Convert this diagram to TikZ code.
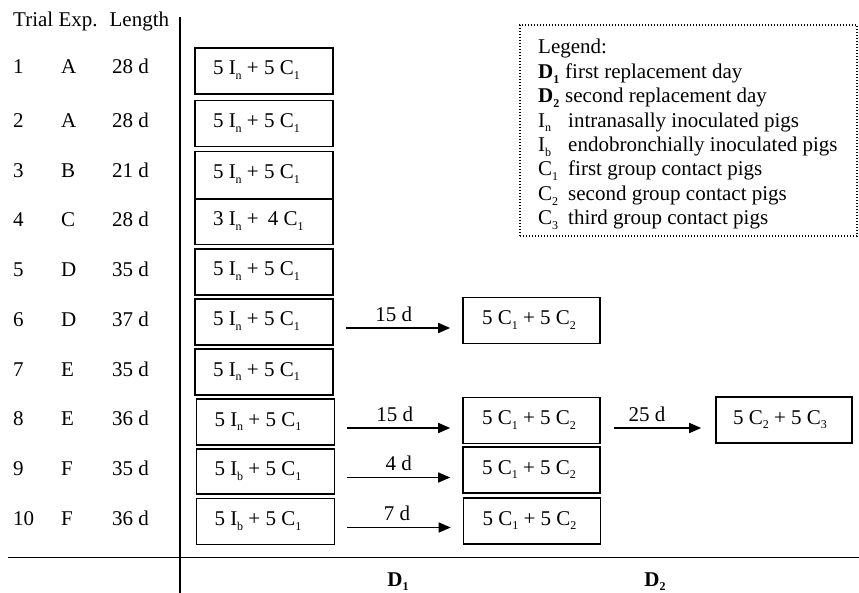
\documentclass[tikz,border=0pt]{standalone}
\usepackage{fontspec}
\setmainfont{Liberation Serif}
\usetikzlibrary{arrows.meta}
\newcommand{\sbs}[1]{\raisebox{-0.22em}{\fontsize{12pt}{12pt}\selectfont #1}}
\begin{document}
\begin{tikzpicture}[x=1pt,y=-1pt,
  every node/.style={font=\fontsize{21pt}{24pt}\selectfont, inner sep=0pt},
  box/.style={draw, line width=1.6pt, minimum height=46pt, minimum width=138pt, inner xsep=18pt, inner ysep=0pt, text height=14pt, text depth=6pt},
  box2/.style={box, minimum width=137pt, inner xsep=19pt},
  arr/.style={line width=1.6pt, -{Triangle[length=12pt,width=10pt]}},
  axis/.style={line width=1.6pt},
  lab/.style={anchor=base west},
  dlab/.style={above=5.5pt, inner sep=0pt},
  legendbox/.style={draw, line width=1.3pt, dash pattern=on 1.3pt off 1.7pt, minimum width=337pt, minimum height=211pt}
]
\useasboundingbox (0,0) rectangle (859,593);
\newcommand{\bt}[2][102pt]{\makebox[#1][l]{#2}}

% axes
\coordinate (vt) at (180,17);
\coordinate (vb) at (180,593);
\coordinate (hl) at (8,557.5);
\coordinate (hr) at (859,557.5);
\draw[axis] (vt) -- (vb);
\draw[axis] (hl) -- (hr);

% header and rows
\node[lab] (head) at (13,27) {Trial Exp.\hspace{5pt} Length};
\foreach \i/\e/\l/\y in {1/A/28/74, 2/A/28/128, 3/B/21/178, 4/C/28/227, 5/D/35/277, 6/D/37/327, 7/E/35/377, 8/E/36/425, 9/F/35/475, 10/F/36/525}{
  \node[lab] (n\i) at (13,\y) {\i};
  \node[lab] (e\i) at (61,\y) {\e};
  \node[lab] (l\i) at (112,\y) {\l\ d};
}

% first column boxes
\node[box] (b1) at (264,71) {\bt{5 I\sbs{n} + 5 C\sbs{1}}};
\node[box] (b2) at (264,123.5) {\bt{5 I\sbs{n} + 5 C\sbs{1}}};
\node[box, minimum height=47pt] (b3) at (264,175) {\bt{5 I\sbs{n} + 5 C\sbs{1}}};
\node[box, minimum height=45pt] (b4) at (264,222) {\bt{3 I\sbs{n} +\hspace{9pt}4 C\sbs{1}}};
\node[box] (b5) at (264,272) {\bt{5 I\sbs{n} + 5 C\sbs{1}}};
\node[box] (b6) at (264,322) {\bt{5 I\sbs{n} + 5 C\sbs{1}}};
\node[box] (b7) at (264,372) {\bt{5 I\sbs{n} + 5 C\sbs{1}}};
\node[box] (b8) at (265.5,422) {\bt{5 I\sbs{n} + 5 C\sbs{1}}};
\node[box, minimum height=45pt] (b9) at (265.5,471.5) {\bt{5 I\sbs{b} + 5 C\sbs{1}}};
\node[box] (b10) at (265.5,521.5) {\bt{5 I\sbs{b} + 5 C\sbs{1}}};

% second column boxes
\node[box2] (c6) at (531.5,320.5) {\bt[99pt]{5 C\sbs{1} + 5 C\sbs{2}}};
\node[box2] (c8) at (531.5,420.5) {\bt[99pt]{5 C\sbs{1} + 5 C\sbs{2}}};
\node[box2] (c9) at (531.5,470) {\bt[99pt]{5 C\sbs{1} + 5 C\sbs{2}}};
\node[box2] (c10) at (532,521) {\bt[99pt]{5 C\sbs{1} + 5 C\sbs{2}}};

% third column box
\node[box, minimum width=136pt, inner xsep=17pt] (d8) at (784,420) {\bt{5 C\sbs{2} + 5 C\sbs{3}}};

% arrows
\foreach \r/\lbl/\p in {6/15 d/0.46, 8/15 d/0.46, 9/4 d/0.5, 10/7 d/0.48}{
  \coordinate (s\r) at ([shift={(12,6)}]b\r.east);
  \path (c\r.west) ++(-12,0) coordinate (t\r);
  \draw[arr] (s\r) -- (t\r |- s\r) node[dlab, pos=\p] (a\r) {\lbl};
}
\path (c8.east) ++(13,0) coordinate (u8);
\path (d8.west) ++(-14,0) coordinate (v8);
\draw[arr] (u8 |- s8) -- (v8 |- s8) node[dlab, pos=0.38] (a8b) {25 d};

% bottom labels
\node[anchor=base] (D1) at (398,586) {\textbf{D}\sbs{\textbf{1}}};
\node[anchor=base] (D2) at (655,586) {\textbf{D}\sbs{\textbf{2}}};

% legend
\node[legendbox] (legend) at (688.5,130.5) {};
\node[lab] (g0) at (538,54) {Legend:};
\node[lab] (g1) at (538,78.4) {\makebox[27pt][l]{\textbf{D}\sbs{\textbf{1}}}first replacement day};
\node[lab] (g2) at (538,102.8) {\makebox[27pt][l]{\textbf{D}\sbs{\textbf{2}}}second replacement day};
\node[lab] (g3) at (538,127.2) {\makebox[30pt][l]{I\sbs{n}}intranasally inoculated pigs};
\node[lab] (g4) at (538,151.6) {\makebox[30pt][l]{I\sbs{b}}endobronchially inoculated pigs};
\node[lab] (g5) at (538,176) {\makebox[30pt][l]{C\sbs{1}}first group contact pigs};
\node[lab] (g6) at (538,200.4) {\makebox[30pt][l]{C\sbs{2}}second group contact pigs};
\node[lab] (g7) at (538,224.8) {\makebox[30pt][l]{C\sbs{3}}third group contact pigs};
\end{tikzpicture}
\end{document}
